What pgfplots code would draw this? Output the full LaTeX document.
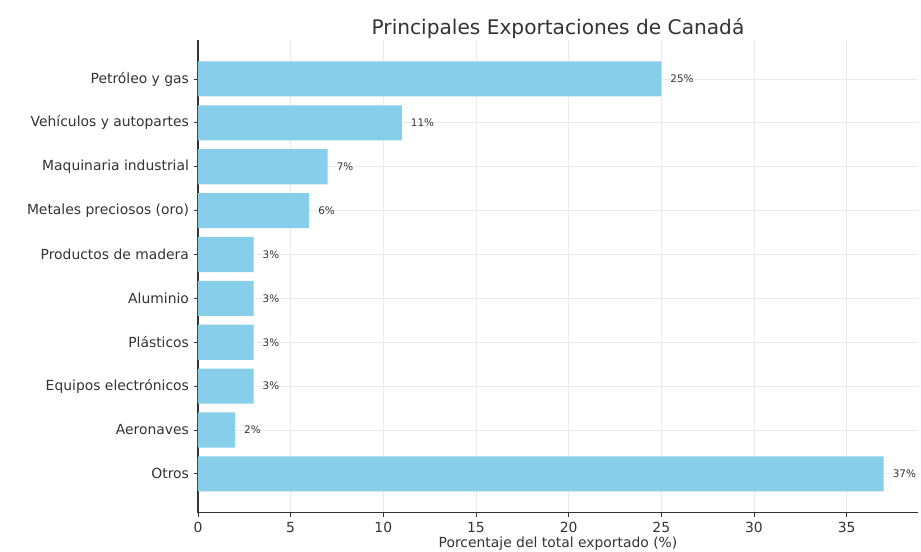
\documentclass[border=0pt]{standalone}
\usepackage{fontspec}
\setmainfont{DejaVu Sans}
\usepackage{pgfplots}
\pgfplotsset{compat=1.18}

\definecolor{barblue}{HTML}{87CEEB}
\definecolor{txt}{HTML}{333333}
\definecolor{gridc}{HTML}{EBEBEB}

\begin{document}
\begin{tikzpicture}
\begin{axis}[
    scale only axis,
    width=518.4pt,
    height=340.6pt,
    xbar,
    bar width=0.8,
    xmin=0, xmax=38.85,
    ymin=-0.89, ymax=9.89,
    y dir=reverse,
    ytick={0,...,9},
    yticklabels={Petróleo y gas,Vehículos y autopartes,Maquinaria industrial,Metales preciosos (oro),Productos de madera,Aluminio,Plásticos,Equipos electrónicos,Aeronaves,Otros},
    xtick={0,5,...,35},
    /pgf/number format/assume math mode=true,
    ticklabel style={font=\fontsize{10}{12}\selectfont, text=txt},
    tick style={txt, line width=0.6pt},
    tick align=outside,
    major tick length=3pt,
    axis x line*=bottom,
    axis y line*=left,
    axis line style={txt, line width=0.8pt, -},
    grid=major,
    major grid style={gridc, line width=0.6pt},
    title={Principales Exportaciones de Canadá},
    title style={font=\fontsize{14.5}{17}\selectfont, text=txt, yshift=-9pt},
    xlabel={Porcentaje del total exportado (\%)},
    xlabel style={font=\fontsize{10}{12}\selectfont, text=txt, yshift=4pt},
    nodes near coords={\pgfmathprintnumber{\pgfplotspointmeta}\%},
    nodes near coords align={horizontal},
    every node near coord/.append style={font=\fontsize{7.5}{9}\selectfont, text=txt, anchor=west, xshift=3pt},
]
\addplot[fill=barblue, draw=none] coordinates {
    (25,0) (11,1) (7,2) (6,3) (3,4) (3,5) (3,6) (3,7) (2,8) (37,9)
};
\end{axis}
\pgfresetboundingbox
\path[use as bounding box] (-142.56pt,-28.1pt) rectangle (520.56pt,369.3pt);
\end{tikzpicture}
\end{document}
